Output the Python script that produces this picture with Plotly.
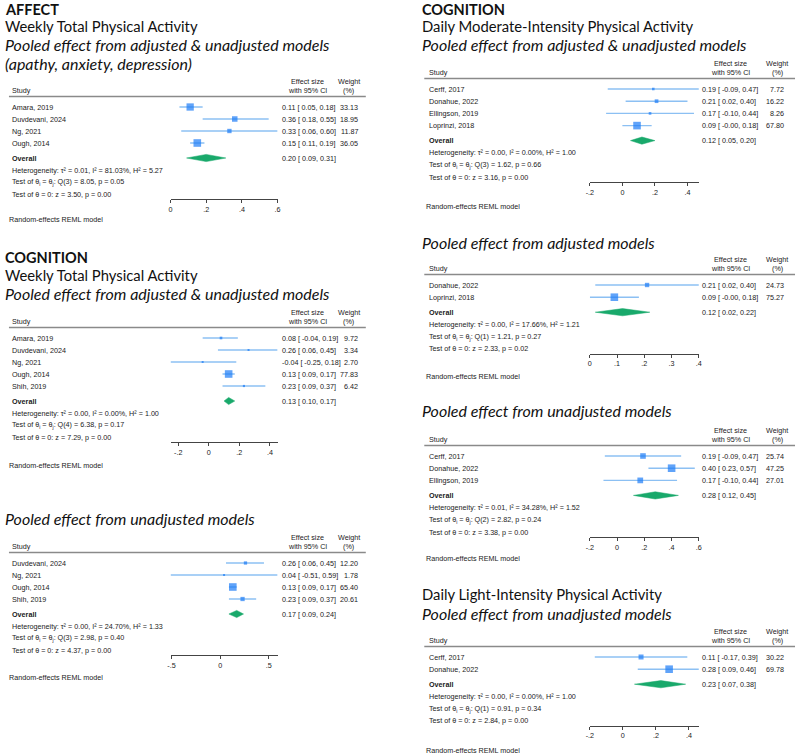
import plotly.graph_objects as go

W, H = 800, 756

# ---------------- DATA ----------------
# Panel A: AFFECT - weekly total PA, adjusted & unadjusted
a_study = ["Amara, 2019", "Duvdevani, 2024", "Ng, 2021", "Ough, 2014"]
a_es = [0.11, 0.36, 0.33, 0.15]
a_lo = [0.05, 0.18, 0.06, 0.11]
a_hi = [0.18, 0.55, 0.60, 0.19]
a_wt = [33.13, 18.95, 11.87, 36.05]
a_overall = [0.20, 0.09, 0.31]
a_het = [0.01, 81.03, 5.27]      # tau2, I2 (%), H2
a_q = [3, 8.05, 0.05]            # df, Q, p
a_z = [3.50, 0.00]               # z, p
a_ticks = [0, 0.2, 0.4, 0.6]

# Panel B: COGNITION - weekly total PA, adjusted & unadjusted
b_study = ["Amara, 2019", "Duvdevani, 2024", "Ng, 2021", "Ough, 2014", "Shih, 2019"]
b_es = [0.08, 0.26, -0.04, 0.13, 0.23]
b_lo = [-0.04, 0.06, -0.25, 0.09, 0.09]
b_hi = [0.19, 0.45, 0.18, 0.17, 0.37]
b_wt = [9.72, 3.34, 2.70, 77.83, 6.42]
b_overall = [0.13, 0.10, 0.17]
b_het = [0.00, 0.00, 1.00]
b_q = [4, 6.38, 0.17]
b_z = [7.29, 0.00]
b_ticks = [-0.2, 0, 0.2, 0.4]

# Panel C: COGNITION - weekly total PA, unadjusted
c_study = ["Duvdevani, 2024", "Ng, 2021", "Ough, 2014", "Shih, 2019"]
c_es = [0.26, 0.04, 0.13, 0.23]
c_lo = [0.06, -0.51, 0.09, 0.09]
c_hi = [0.45, 0.59, 0.17, 0.37]
c_wt = [12.20, 1.78, 65.40, 20.61]
c_overall = [0.17, 0.09, 0.24]
c_het = [0.00, 24.70, 1.33]
c_q = [3, 2.98, 0.40]
c_z = [4.37, 0.00]
c_ticks = [-0.5, 0, 0.5]

# Panel D: COGNITION - daily moderate PA, adjusted & unadjusted
d_study = ["Cerff, 2017", "Donahue, 2022", "Ellingson, 2019", "Loprinzi, 2018"]
d_es = [0.19, 0.21, 0.17, 0.09]
d_lo = [-0.09, 0.02, -0.10, -0.0]
d_hi = [0.47, 0.40, 0.44, 0.18]
d_wt = [7.72, 16.22, 8.26, 67.80]
d_overall = [0.12, 0.05, 0.20]
d_het = [0.00, 0.00, 1.00]
d_q = [3, 1.62, 0.66]
d_z = [3.16, 0.00]
d_ticks = [-0.2, 0, 0.2, 0.4]

# Panel E: daily moderate PA, adjusted
e_study = ["Donahue, 2022", "Loprinzi, 2018"]
e_es = [0.21, 0.09]
e_lo = [0.02, -0.0]
e_hi = [0.40, 0.18]
e_wt = [24.73, 75.27]
e_overall = [0.12, 0.02, 0.22]
e_het = [0.00, 17.66, 1.21]
e_q = [1, 1.21, 0.27]
e_z = [2.33, 0.02]
e_ticks = [0, 0.1, 0.2, 0.3, 0.4]

# Panel F: daily moderate PA, unadjusted
f_study = ["Cerff, 2017", "Donahue, 2022", "Ellingson, 2019"]
f_es = [0.19, 0.40, 0.17]
f_lo = [-0.09, 0.23, -0.10]
f_hi = [0.47, 0.57, 0.44]
f_wt = [25.74, 47.25, 27.01]
f_overall = [0.28, 0.12, 0.45]
f_het = [0.01, 34.28, 1.52]
f_q = [2, 2.82, 0.24]
f_z = [3.38, 0.00]
f_ticks = [-0.2, 0, 0.2, 0.4, 0.6]

# Panel G: daily light PA, unadjusted
g_study = ["Cerff, 2017", "Donahue, 2022"]
g_es = [0.11, 0.28]
g_lo = [-0.17, 0.09]
g_hi = [0.39, 0.46]
g_wt = [30.22, 69.78]
g_overall = [0.23, 0.07, 0.38]
g_het = [0.00, 0.00, 1.00]
g_q = [1, 0.91, 0.34]
g_z = [2.84, 0.00]
g_ticks = [-0.2, 0, 0.2, 0.4]

# ---------------- STYLE / LAYOUT ----------------
TXT = "#1a1a1a"
CI_COL = "#8cc0f3"
SQ_COL = "#1c7cf6"
DIA_COL = "#19a96b"
SMALL = "Liberation Sans, Arial, sans-serif"
TITLE = "Lato, sans-serif"
FS = 7.2

LEFT = dict(name_x=6, eff_x=278, wt_r=359, eff_c=306, wt_c=348,
            rule=(5, 365), plot=(168, 276), title_x=0, step=12.0)
RIGHT = dict(name_x=427, eff_x=702, wt_r=789, eff_c=733, wt_c=780,
             rule=(424, 798), plot=(591, 701), title_x=421, step=12.2)

fig = go.Figure()
ann = []
shapes = []


def px_x(x):
    return x / W


def text(x, y, s, anchor="left", size=FS, family=SMALL, color=TXT, pad=1):
    ann.append(dict(x=px_x(x), y=y, xref="paper", yref="y", text=s,
                    showarrow=False, xanchor=anchor, yanchor="middle",
                    borderpad=pad,
                    font=dict(size=size, family=family, color=color)))


def eff(e, l, h):
    return f"{e:.2f} [ {l:.2f}, {h:.2f}]"


def tick_lab(v):
    s = f"{v:g}"
    if s.startswith("0."):
        s = s[1:]
    elif s.startswith("-0."):
        s = "-" + s[2:]
    return s


def panel(k, col, y0, reml_y, study, es, lo, hi, wt, overall, het, q, z, ticks):
    step = col["step"]
    n = len(study)
    rows = [y0 + step * i for i in range(n)]
    y_over = rows[-1] + 15
    y_het = y_over + step
    y_q = y_het + step
    y_z = y_q + step
    y_axis = y_z + 5

    # header
    text(col["eff_c"], y0 - 26, "Effect size", anchor="center")
    text(col["eff_c"], y0 - 16.5, "with 95% CI", anchor="center")
    text(col["wt_c"], y0 - 26, "Weight", anchor="center")
    text(col["wt_c"], y0 - 16.5, "(%)", anchor="center")
    text(col["name_x"], y0 - 16.5, "Study")
    shapes.append(dict(type="line", xref="paper", yref="y",
                       x0=px_x(col["rule"][0]), x1=px_x(col["rule"][1]),
                       y0=y0 - 10.5, y1=y0 - 10.5,
                       line=dict(color="#8a8a8a", width=1.3)))

    # study rows
    for i in range(n):
        text(col["name_x"], rows[i], study[i])
        text(col["eff_x"], rows[i], eff(es[i], lo[i], hi[i]))
        text(col["wt_r"], rows[i], f"{wt[i]:.2f}", anchor="right")
    text(col["name_x"], y_over, "<b>Overall</b>")
    text(col["eff_x"], y_over, eff(*overall))
    text(col["name_x"], y_het,
         f"Heterogeneity: \u03c4\u00b2 = {het[0]:.2f}, I\u00b2 = {het[1]:.2f}%, H\u00b2 = {het[2]:.2f}")
    text(col["name_x"], y_q,
         f"Test of \u03b8<sub>i</sub> = \u03b8<sub>j</sub>: Q({q[0]}) = {q[1]:.2f}, p = {q[2]:.2f}")
    text(col["name_x"], y_z, f"Test of \u03b8 = 0: z = {z[0]:.2f}, p = {z[1]:.2f}")
    text(col["name_x"] - 3, reml_y, "Random-effects REML model")

    # axis
    xname = "x" if k == 1 else f"x{k}"
    lname = "xaxis" if k == 1 else f"xaxis{k}"
    rmin = min(min(lo), min(ticks), overall[1])
    rmax = max(max(hi), max(ticks), overall[2])
    fig.update_layout(**{lname: dict(
        domain=[px_x(col["plot"][0]), px_x(col["plot"][1])],
        range=[rmin, rmax], anchor="free", position=1 - y_axis / H,
        showline=True, linecolor="#444", linewidth=1, showgrid=False,
        zeroline=False, ticks="outside", ticklen=3, tickwidth=1,
        tickcolor="#444", tickvals=ticks, ticktext=[tick_lab(t) for t in ticks],
        tickfont=dict(size=FS, family=SMALL, color=TXT), fixedrange=True)})

    # CI lines
    xs, ys = [], []
    for i in range(n):
        xs += [lo[i], hi[i], None]
        ys += [rows[i], rows[i], None]
    fig.add_trace(go.Scatter(x=xs, y=ys, mode="lines", xaxis=xname, yaxis="y",
                             line=dict(color=CI_COL, width=1.4),
                             hoverinfo="skip", showlegend=False))
    # squares (area proportional to weight)
    wmax = max(wt)
    sizes = [max(2.0, 7.6 * (w / wmax) ** 0.5) for w in wt]
    fig.add_trace(go.Scatter(x=es, y=rows, mode="markers", xaxis=xname, yaxis="y",
                             marker=dict(symbol="square", size=sizes, color=SQ_COL,
                                         line=dict(width=0)),
                             showlegend=False, cliponaxis=False))
    # diamond
    e0, l0, h0 = overall
    hh = 3.6
    fig.add_trace(go.Scatter(x=[l0, e0, h0, e0, l0],
                             y=[y_over, y_over - hh, y_over, y_over + hh, y_over],
                             mode="lines", fill="toself", fillcolor=DIA_COL,
                             line=dict(color=DIA_COL, width=0.5),
                             xaxis=xname, yaxis="y", showlegend=False,
                             hoverinfo="skip"))


panel(1, LEFT, 107, 219, a_study, a_es, a_lo, a_hi, a_wt, a_overall, a_het, a_q, a_z, a_ticks)
panel(2, LEFT, 338, 465, b_study, b_es, b_lo, b_hi, b_wt, b_overall, b_het, b_q, b_z, b_ticks)
panel(3, LEFT, 563, 677, c_study, c_es, c_lo, c_hi, c_wt, c_overall, c_het, c_q, c_z, c_ticks)
panel(4, RIGHT, 89, 206, d_study, d_es, d_lo, d_hi, d_wt, d_overall, d_het, d_q, d_z, d_ticks)
panel(5, RIGHT, 285, 376, e_study, e_es, e_lo, e_hi, e_wt, e_overall, e_het, e_q, e_z, e_ticks)
panel(6, RIGHT, 456, 558, f_study, f_es, f_lo, f_hi, f_wt, f_overall, f_het, f_q, f_z, f_ticks)
panel(7, RIGHT, 657, 750, g_study, g_es, g_lo, g_hi, g_wt, g_overall, g_het, g_q, g_z, g_ticks)

# titles: (text, column, y, style)
TSIZE = {"b": 14.5, "r": 14.8, "i": 16.0}
titles = [
    ("<b>AFFECT</b>", LEFT, 9.5, "b"),
    ("Weekly Total Physical Activity", LEFT, 26, "r"),
    ("<i>Pooled effect from adjusted & unadjusted models</i>", LEFT, 44, "i"),
    ("<i>(apathy, anxiety, depression)</i>", LEFT, 63, "i"),
    ("<b>COGNITION</b>", LEFT, 257, "b"),
    ("Weekly Total Physical Activity", LEFT, 275, "r"),
    ("<i>Pooled effect from adjusted & unadjusted models</i>", LEFT, 293, "i"),
    ("<i>Pooled effect from unadjusted models</i>", LEFT, 518, "i"),
    ("<b>COGNITION</b>", RIGHT, 9.5, "b"),
    ("Daily Moderate-Intensity Physical Activity", RIGHT, 26, "r"),
    ("<i>Pooled effect from adjusted & unadjusted models</i>", RIGHT, 44, "i"),
    ("<i>Pooled effect from adjusted models</i>", RIGHT, 242, "i"),
    ("<i>Pooled effect from unadjusted models</i>", RIGHT, 410, "i"),
    ("Daily Light-Intensity Physical Activity", RIGHT, 594, "r"),
    ("<i>Pooled effect from unadjusted models</i>", RIGHT, 613, "i"),
]
for t, col, y, sty in titles:
    text(col["title_x"], y, t, size=TSIZE[sty], family=TITLE, color="#111", pad=0)

fig.update_layout(
    width=W, height=H, margin=dict(l=0, r=0, t=0, b=0),
    paper_bgcolor="white", plot_bgcolor="rgba(0,0,0,0)",
    showlegend=False,
    yaxis=dict(domain=[0, 1], range=[H, 0], visible=False, fixedrange=True,
               anchor="free", position=0),
    annotations=ann, shapes=shapes,
)

fig.write_html("out.html", config={"displayModeBar": False},
               post_script="document.body.style.margin='0px';")
